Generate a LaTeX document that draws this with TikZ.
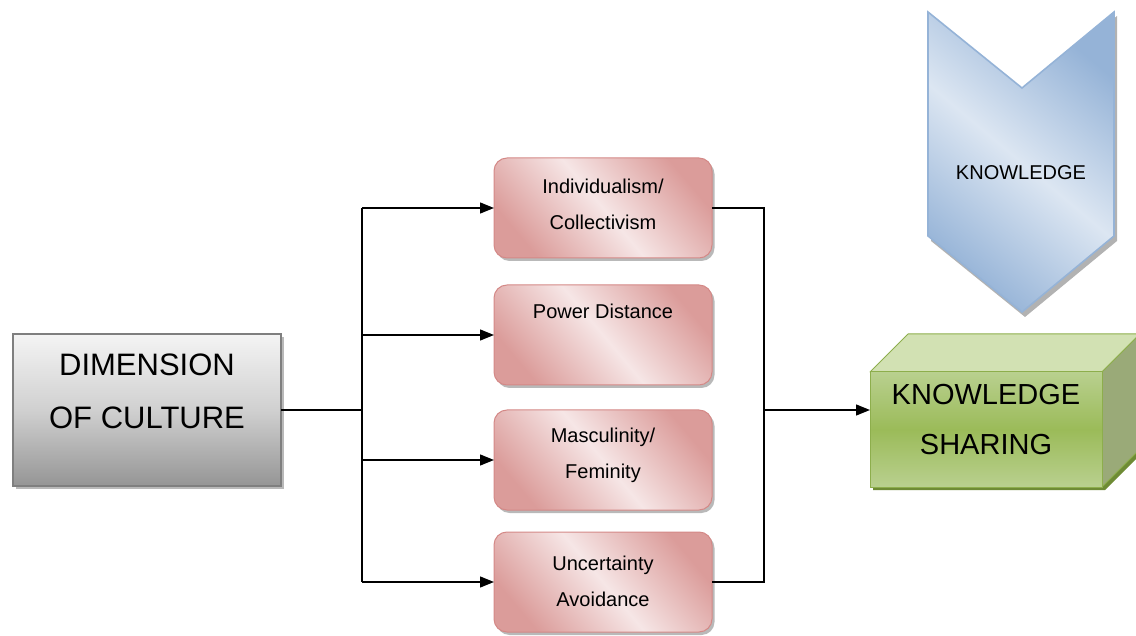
\documentclass[tikz,border=0pt]{standalone}
\usepackage{fontspec}
\setmainfont{Liberation Sans}
\usetikzlibrary{arrows.meta,shadows,calc}
\definecolor{pinkD}{HTML}{DB9C9A}
\definecolor{pinkL}{HTML}{F6E6E6}
\definecolor{pinkB}{HTML}{D48987}
\definecolor{grayB}{HTML}{7F7F7F}
\definecolor{grayT}{HTML}{F4F4F4}
\definecolor{grayM}{HTML}{D0D0D0}
\definecolor{grayD}{HTML}{959595}
\definecolor{gFront}{HTML}{9BBB59}
\definecolor{gFrontL}{HTML}{B9D08F}
\definecolor{gTop}{HTML}{D2E1B3}
\definecolor{gSide}{HTML}{9AAA78}
\definecolor{gBorder}{HTML}{8DAE4C}
\definecolor{gShadow}{HTML}{6E8B35}
\definecolor{blueL}{HTML}{DCE6F2}
\definecolor{blueD}{HTML}{95B3D7}
\begin{document}
\begin{tikzpicture}[x=1pt,y=-1pt,
  conn/.style={line width=1.3pt, black},
  arr/.style={conn,-{Triangle[length=14pt,width=11pt]}},
  pinkbox/.style={draw=pinkB, line width=1pt, rounded corners=13pt,
    minimum width=218pt, minimum height=100pt, outer sep=0pt,
    top color=pinkD, bottom color=pinkD, middle color=pinkL, shading angle=-50,
    drop shadow={shadow xshift=2.5pt, shadow yshift=-3pt, fill=gray!55, opacity=1}},
  pinktext/.style={align=center, font=\fontsize{20pt}{36pt}\selectfont},
  bigtext/.style={align=center, font=\fontsize{31pt}{53pt}\selectfont},
  greentext/.style={align=center, font=\fontsize{29pt}{50pt}\selectfont},
  dimbox/.style={draw=grayB, line width=1.6pt, minimum width=268pt, minimum height=152pt,
    outer sep=0pt, top color=grayT, bottom color=grayD, middle color=grayM,
    drop shadow={shadow xshift=2.5pt, shadow yshift=-3pt, fill=gray!55, opacity=1}}
]
\useasboundingbox (0,0) rectangle (1136,636);

% Dimension of culture
\node[dimbox] (dim) at (147,410) {};
\node[bigtext] (dimt) at (147,391) {DIMENSION\\OF CULTURE};

% pink boxes
\node[pinkbox] (p1) at (603,208) {};
\node[pinkbox] (p2) at (603,335) {};
\node[pinkbox] (p3) at (603,460) {};
\node[pinkbox] (p4) at (603,582) {};
\node[pinktext] (p1t) at (603,204) {Individualism/\\Collectivism};
\node[pinktext] (p2t) at (603,311) {Power Distance};
\node[pinktext] (p3t) at (603,455) {Masculinity/\\Feminity};
\node[pinktext] (p4t) at (603,581) {Uncertainty\\Avoidance};

% Knowledge chevron
\fill[gray!60] (931,16) -- (1025,92) -- (1117,16) -- (1117,241) -- (1025,317) -- (931,241) -- cycle;
\shade[top color=blueD, bottom color=blueD, middle color=blueL, shading angle=-40]
  (928,12) -- (1022,88) -- (1114,12) -- (1114,236) -- (1022,312) -- (928,236) -- cycle;
\draw[blueD, line width=1.6pt, line join=miter]
  (928,12) -- (1022,88) -- (1114,12) -- (1114,236) -- (1022,312) -- (928,236) -- cycle;
\node[font=\fontsize{20pt}{24pt}\selectfont] (kn) at (1021,173) {KNOWLEDGE};

% Knowledge sharing box
\fill[gShadow] (873,375) -- (1105,375) -- (1143,337) -- (1143,452) -- (1105,490) -- (873,490) -- cycle;
\fill[gTop, draw=gBorder, line width=1pt, line join=round] (870,372) -- (908,334) -- (1140,334) -- (1102,372) -- cycle;
\fill[gSide, draw=gBorder, line width=1pt, line join=round] (1102,372) -- (1140,334) -- (1140,449) -- (1102,487) -- cycle;
\node[draw=gBorder, line width=1pt, minimum width=232pt, minimum height=115pt, outer sep=0pt,
  top color=gFrontL, bottom color=gFrontL, middle color=gFront] (ks) at (986,429.5) {};
\node[greentext] (kst) at (986,420) {KNOWLEDGE\\SHARING};

% connectors
\coordinate (jL) at (362,410);
\coordinate (jR) at (764,410);
\draw[conn] (dim.east) -- (jL);
\draw[conn] (jL |- p1.west) -- (jL |- p4.west);
\draw[arr] (jL |- p1.west) -- (p1.west);
\draw[arr] (jL |- p2.west) -- (p2.west);
\draw[arr] (jL |- p3.west) -- (p3.west);
\draw[arr] (jL |- p4.west) -- (p4.west);
\draw[conn] (p1.east) -- (jR |- p1.east) -- (jR |- p4.east) -- (p4.east);
\draw[arr] (jR) -- (ks.west |- jR);
\end{tikzpicture}
\end{document}
